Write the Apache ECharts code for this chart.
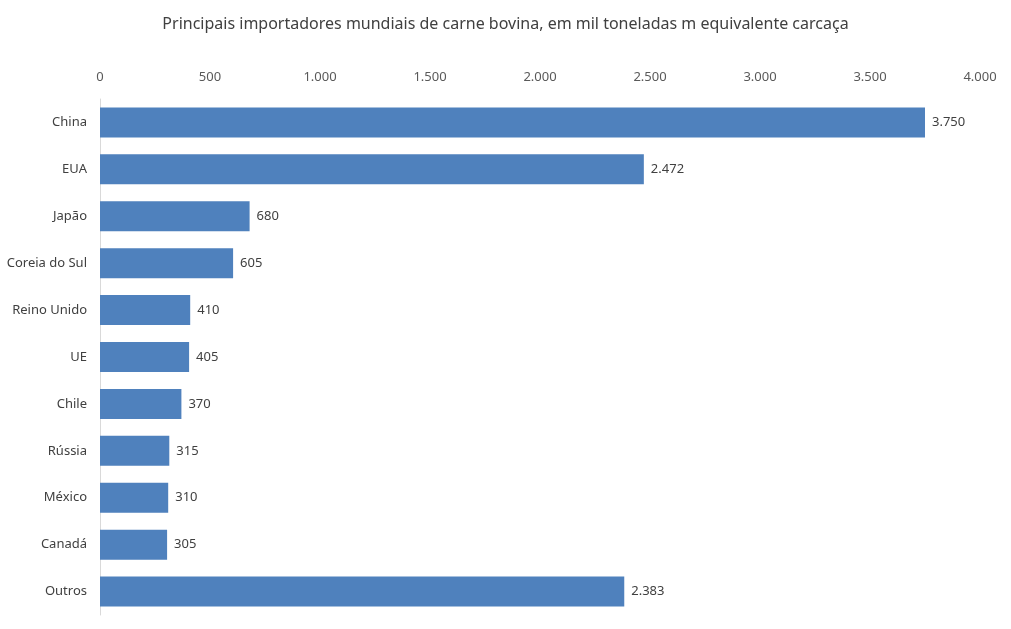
<!DOCTYPE html>
<html>
<head>
<meta charset="utf-8">
<script src="https://cdn.jsdelivr.net/npm/echarts@6/dist/echarts.min.js"></script>
<style>
  html, body { margin: 0; padding: 0; background: #fff; }
  #chart { width: 1011px; height: 629px; }
</style>
</head>
<body>
<div id="chart"></div>
<script>
// dados (mil toneladas, equivalente carcaça)
var paises = ['China', 'EUA', 'Japão', 'Coreia do Sul', 'Reino Unido', 'UE', 'Chile', 'Rússia', 'México', 'Canadá', 'Outros'];
var importacoes = [3750, 2472, 680, 605, 410, 405, 370, 315, 310, 305, 2383];

// formato pt-BR: 1.000
function fmt(v) {
  return String(v).replace(/\B(?=(\d{3})+(?!\d))/g, '.');
}

var myChart = echarts.init(document.getElementById('chart'));
var option = {
  animation: false,
  textStyle: { fontFamily: 'Noto Sans' },
  title: {
    text: 'Principais importadores mundiais de carne bovina, em mil toneladas m equivalente carcaça',
    left: 'center',
    top: 11,
    textStyle: { color: '#404040', fontSize: 16, fontWeight: 'normal', fontFamily: 'Noto Sans' }
  },
  grid: { left: 100, right: 31, top: 99, bottom: 14 },
  xAxis: {
    type: 'value',
    position: 'top',
    min: 0,
    max: 4000,
    interval: 500,
    axisLine: { show: false },
    axisTick: { show: false },
    splitLine: { show: false },
    axisLabel: { color: '#595959', fontSize: 13, margin: 15, formatter: fmt }
  },
  yAxis: {
    type: 'category',
    inverse: true,
    data: paises,
    axisLine: { show: true, lineStyle: { color: '#d9d9d9', width: 1 } },
    axisTick: { show: false },
    axisLabel: { color: '#404040', fontSize: 13, margin: 13 }
  },
  series: [
    {
      type: 'bar',
      data: importacoes,
      barCategoryGap: '36%',
      itemStyle: { color: '#4f81bd' },
      label: {
        show: true,
        position: 'right',
        distance: 7,
        color: '#404040',
        fontSize: 13,
        formatter: function (p) { return fmt(p.value); }
      }
    }
  ]
};
myChart.setOption(option);
window.addEventListener('resize', function () {
  myChart.resize();
});
</script>
</body>
</html>
